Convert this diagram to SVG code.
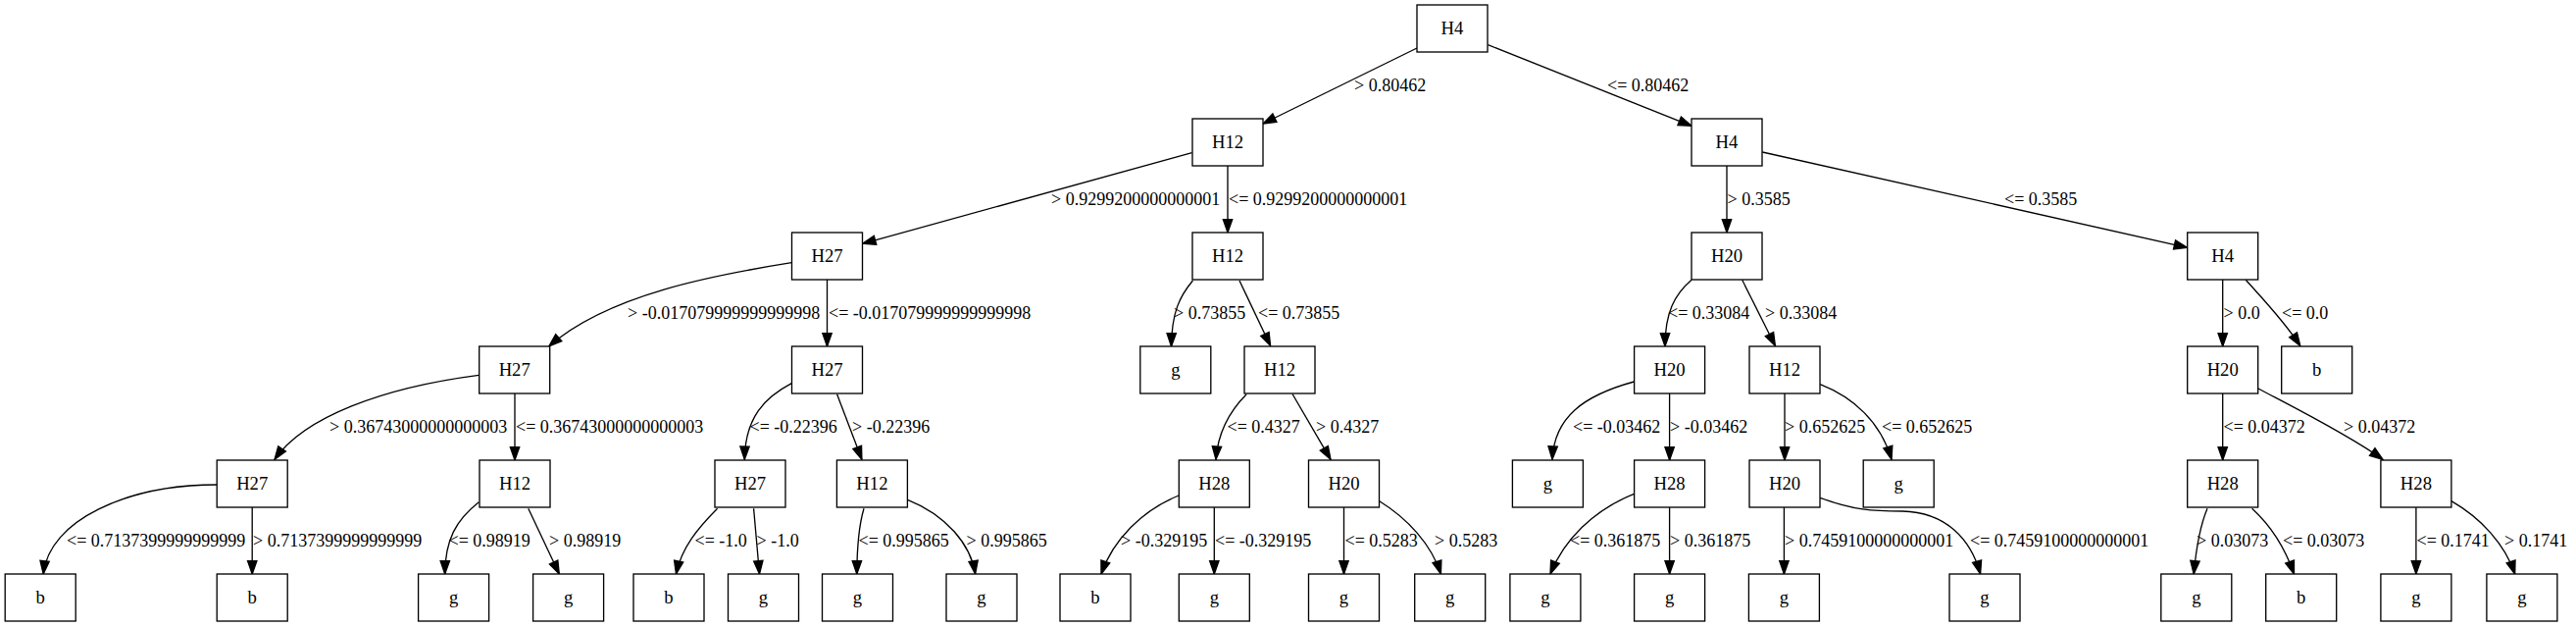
<svg xmlns="http://www.w3.org/2000/svg" width="2627" height="639" viewBox="0 0 2627 639">
<style>
.nd rect{fill:#fff;stroke:#000;stroke-width:1.33}
.nd text{font-family:"Liberation Serif","Times New Roman",serif;font-size:18.67px;text-anchor:middle;fill:#000}
.ed path{fill:none;stroke:#000;stroke-width:1.33;marker-end:url(#arr)}
.lb text{font-family:"Liberation Serif","Times New Roman",serif;font-size:18px;fill:#000}
</style>
<defs>
<marker id="arr" markerUnits="userSpaceOnUse" markerWidth="16" markerHeight="12" refX="13.3" refY="4.67" orient="auto" overflow="visible"><path d="M0,0 L13.3,4.67 L0,9.33 z" fill="#000" stroke="#000" stroke-width="1.33"/></marker>
</defs>
<rect width="2627" height="639" fill="#fff"/>
<g id="edges" class="ed">
<path d="M1445,49 L1288,126"/>
<path d="M1517.4,45.7 L1725,128.3"/>
<path d="M1215.6,155.7 L879.7,248.3"/>
<path d="M1252,169 L1252,237"/>
<path d="M1761,169 L1761,237"/>
<path d="M1797.3,155 L2230.5,252.3"/>
<path d="M807.3,267.7 C730,280 620,300 559.8,353"/>
<path d="M843.5,285 L843.5,353"/>
<path d="M1216.4,286 C1203,302 1195,318 1194.5,353"/>
<path d="M1264,286 L1295.6,352.5"/>
<path d="M1725,285.3 C1708,300 1698,318 1698,353"/>
<path d="M1776.7,285.3 L1810.4,352.5"/>
<path d="M2266.7,285 L2266.7,353"/>
<path d="M2290.3,285.3 C2308,305 2330,328 2345.8,352.5"/>
<path d="M488.3,382.3 C390,395 310,425 280,468.3"/>
<path d="M525,401 L525,469"/>
<path d="M807.3,390.7 C780,405 760,425 759.3,468.3"/>
<path d="M853.6,401.7 L878.9,468.3"/>
<path d="M1271.2,401.7 C1255,418 1242,440 1240,468.3"/>
<path d="M1318,401.5 L1357,468.3"/>
<path d="M1666.4,389 C1615,403 1585,425 1583,468.3"/>
<path d="M1702.6,401 L1702.6,469"/>
<path d="M1820,401 L1820,469"/>
<path d="M1856.2,391.7 C1890,405 1918,430 1929,468.3"/>
<path d="M2266.7,401 L2266.7,469"/>
<path d="M2302.9,396 C2335,413 2395,443 2430,468.3"/>
<path d="M221,494 C130,494 50,530 44.2,585"/>
<path d="M257.2,517 L257.2,585"/>
<path d="M488.3,511.7 C465,530 454,550 453.7,585"/>
<path d="M538.8,518.3 L570.3,585"/>
<path d="M731.6,518.3 C712,538 695,558 689.5,585"/>
<path d="M768.6,518.3 L774.5,585"/>
<path d="M881,518.3 C876,535 874,555 873.8,585"/>
<path d="M925.6,509.3 C965,525 990,555 994.6,585"/>
<path d="M1202.1,505 C1165,520 1135,550 1123,585"/>
<path d="M1238.3,517 L1238.3,585"/>
<path d="M1370.5,517 L1370.5,585"/>
<path d="M1406.7,510.7 C1435,528 1460,555 1469.4,585"/>
<path d="M1666.4,503.3 C1625,520 1595,550 1581,585"/>
<path d="M1702.6,517 L1702.6,585"/>
<path d="M1819.4,517 L1819.4,585"/>
<path d="M1856.2,507.3 C1890,520 1910,521 1940,521 C1985,522 2010,550 2019.6,585"/>
<path d="M2251,518.3 C2244,535 2240,555 2237.2,585"/>
<path d="M2296.6,518.3 C2315,535 2330,558 2339.5,585"/>
<path d="M2463.9,517 L2463.9,585"/>
<path d="M2499.9,510.7 C2530,528 2555,555 2564.7,585"/>
</g>
<g id="edge-labels" class="lb">
<text x="1381" y="92.5">&gt; 0.80462</text>
<text x="1639" y="92.5">&lt;= 0.80462</text>
<text x="1072" y="208.5">&gt; 0.9299200000000001</text>
<text x="1253" y="208.5">&lt;= 0.9299200000000001</text>
<text x="1761.5" y="208.5">&gt; 0.3585</text>
<text x="2044" y="208.5">&lt;= 0.3585</text>
<text x="640" y="324.5">&gt; -0.017079999999999998</text>
<text x="845" y="324.5">&lt;= -0.017079999999999998</text>
<text x="1197" y="324.5">&gt; 0.73855</text>
<text x="1283" y="324.5">&lt;= 0.73855</text>
<text x="1701" y="324.5">&lt;= 0.33084</text>
<text x="1800" y="324.5">&gt; 0.33084</text>
<text x="2267.5" y="324.5">&gt; 0.0</text>
<text x="2327" y="324.5">&lt;= 0.0</text>
<text x="336" y="440.5">&gt; 0.36743000000000003</text>
<text x="526" y="440.5">&lt;= 0.36743000000000003</text>
<text x="764.5" y="440.5">&lt;= -0.22396</text>
<text x="869" y="440.5">&gt; -0.22396</text>
<text x="1251.5" y="440.5">&lt;= 0.4327</text>
<text x="1342" y="440.5">&gt; 0.4327</text>
<text x="1604" y="440.5">&lt;= -0.03462</text>
<text x="1703" y="440.5">&gt; -0.03462</text>
<text x="1820" y="440.5">&gt; 0.652625</text>
<text x="1919" y="440.5">&lt;= 0.652625</text>
<text x="2267.5" y="440.5">&lt;= 0.04372</text>
<text x="2390" y="440.5">&gt; 0.04372</text>
<text x="68" y="556.5">&lt;= 0.7137399999999999</text>
<text x="258" y="556.5">&gt; 0.7137399999999999</text>
<text x="457.5" y="556.5">&lt;= 0.98919</text>
<text x="560" y="556.5">&gt; 0.98919</text>
<text x="708.5" y="556.5">&lt;= -1.0</text>
<text x="771.5" y="556.5">&gt; -1.0</text>
<text x="875.5" y="556.5">&lt;= 0.995865</text>
<text x="985.5" y="556.5">&gt; 0.995865</text>
<text x="1143" y="556.5">&gt; -0.329195</text>
<text x="1239" y="556.5">&lt;= -0.329195</text>
<text x="1371.5" y="556.5">&lt;= 0.5283</text>
<text x="1463" y="556.5">&gt; 0.5283</text>
<text x="1601" y="556.5">&lt;= 0.361875</text>
<text x="1703" y="556.5">&gt; 0.361875</text>
<text x="1820" y="556.5">&gt; 0.7459100000000001</text>
<text x="2009" y="556.5">&lt;= 0.7459100000000001</text>
<text x="2240" y="556.5">&gt; 0.03073</text>
<text x="2328" y="556.5">&lt;= 0.03073</text>
<text x="2464.5" y="556.5">&lt;= 0.1741</text>
<text x="2554" y="556.5">&gt; 0.1741</text>
</g>
<g id="n0" class="nd"><rect x="1445" y="5" width="72" height="48"/><text x="1481" y="34.5">H4</text></g>
<g id="n1" class="nd"><rect x="1216" y="121" width="72" height="48"/><text x="1252" y="150.5">H12</text></g>
<g id="n2" class="nd"><rect x="1725" y="121" width="72" height="48"/><text x="1761" y="150.5">H4</text></g>
<g id="n3" class="nd"><rect x="807.5" y="237" width="72" height="48"/><text x="843.5" y="266.5">H27</text></g>
<g id="n4" class="nd"><rect x="1216" y="237" width="72" height="48"/><text x="1252" y="266.5">H12</text></g>
<g id="n5" class="nd"><rect x="1725" y="237" width="72" height="48"/><text x="1761" y="266.5">H20</text></g>
<g id="n6" class="nd"><rect x="2230.7" y="237" width="72" height="48"/><text x="2266.7" y="266.5">H4</text></g>
<g id="n7" class="nd"><rect x="488.7" y="353" width="72" height="48"/><text x="524.7" y="382.5">H27</text></g>
<g id="n8" class="nd"><rect x="807.5" y="353" width="72" height="48"/><text x="843.5" y="382.5">H27</text></g>
<g id="n9" class="nd"><rect x="1162.8" y="353" width="72" height="48"/><text x="1198.8" y="382.5">g</text></g>
<g id="n10" class="nd"><rect x="1269" y="353" width="72" height="48"/><text x="1305" y="382.5">H12</text></g>
<g id="n11" class="nd"><rect x="1666.6" y="353" width="72" height="48"/><text x="1702.6" y="382.5">H20</text></g>
<g id="n12" class="nd"><rect x="1784" y="353" width="72" height="48"/><text x="1820" y="382.5">H12</text></g>
<g id="n13" class="nd"><rect x="2230.7" y="353" width="72" height="48"/><text x="2266.7" y="382.5">H20</text></g>
<g id="n14" class="nd"><rect x="2326.7" y="353" width="72" height="48"/><text x="2362.7" y="382.5">b</text></g>
<g id="n15" class="nd"><rect x="221.2" y="469" width="72" height="48"/><text x="257.2" y="498.5">H27</text></g>
<g id="n16" class="nd"><rect x="489" y="469" width="72" height="48"/><text x="525" y="498.5">H12</text></g>
<g id="n17" class="nd"><rect x="729" y="469" width="72" height="48"/><text x="765" y="498.5">H27</text></g>
<g id="n18" class="nd"><rect x="853.4" y="469" width="72" height="48"/><text x="889.4" y="498.5">H12</text></g>
<g id="n19" class="nd"><rect x="1202.3" y="469" width="72" height="48"/><text x="1238.3" y="498.5">H28</text></g>
<g id="n20" class="nd"><rect x="1334.5" y="469" width="72" height="48"/><text x="1370.5" y="498.5">H20</text></g>
<g id="n21" class="nd"><rect x="1542.4" y="469" width="72" height="48"/><text x="1578.4" y="498.5">g</text></g>
<g id="n22" class="nd"><rect x="1666.6" y="469" width="72" height="48"/><text x="1702.6" y="498.5">H28</text></g>
<g id="n23" class="nd"><rect x="1784" y="469" width="72" height="48"/><text x="1820" y="498.5">H20</text></g>
<g id="n24" class="nd"><rect x="1900.2" y="469" width="72" height="48"/><text x="1936.2" y="498.5">g</text></g>
<g id="n25" class="nd"><rect x="2230.7" y="469" width="72" height="48"/><text x="2266.7" y="498.5">H28</text></g>
<g id="n26" class="nd"><rect x="2427.9" y="469" width="72" height="48"/><text x="2463.9" y="498.5">H28</text></g>
<g id="n27" class="nd"><rect x="5.2" y="585" width="72" height="48"/><text x="41.2" y="614.5">b</text></g>
<g id="n28" class="nd"><rect x="221.2" y="585" width="72" height="48"/><text x="257.2" y="614.5">b</text></g>
<g id="n29" class="nd"><rect x="426.6" y="585" width="72" height="48"/><text x="462.6" y="614.5">g</text></g>
<g id="n30" class="nd"><rect x="543.6" y="585" width="72" height="48"/><text x="579.6" y="614.5">g</text></g>
<g id="n31" class="nd"><rect x="646" y="585" width="72" height="48"/><text x="682" y="614.5">b</text></g>
<g id="n32" class="nd"><rect x="742.5" y="585" width="72" height="48"/><text x="778.5" y="614.5">g</text></g>
<g id="n33" class="nd"><rect x="838.5" y="585" width="72" height="48"/><text x="874.5" y="614.5">g</text></g>
<g id="n34" class="nd"><rect x="965" y="585" width="72" height="48"/><text x="1001" y="614.5">g</text></g>
<g id="n35" class="nd"><rect x="1081" y="585" width="72" height="48"/><text x="1117" y="614.5">b</text></g>
<g id="n36" class="nd"><rect x="1202.3" y="585" width="72" height="48"/><text x="1238.3" y="614.5">g</text></g>
<g id="n37" class="nd"><rect x="1334.5" y="585" width="72" height="48"/><text x="1370.5" y="614.5">g</text></g>
<g id="n38" class="nd"><rect x="1442.7" y="585" width="72" height="48"/><text x="1478.7" y="614.5">g</text></g>
<g id="n39" class="nd"><rect x="1539.9" y="585" width="72" height="48"/><text x="1575.9" y="614.5">g</text></g>
<g id="n40" class="nd"><rect x="1666.6" y="585" width="72" height="48"/><text x="1702.6" y="614.5">g</text></g>
<g id="n41" class="nd"><rect x="1783.4" y="585" width="72" height="48"/><text x="1819.4" y="614.5">g</text></g>
<g id="n42" class="nd"><rect x="1988" y="585" width="72" height="48"/><text x="2024" y="614.5">g</text></g>
<g id="n43" class="nd"><rect x="2203.8" y="585" width="72" height="48"/><text x="2239.8" y="614.5">g</text></g>
<g id="n44" class="nd"><rect x="2310.7" y="585" width="72" height="48"/><text x="2346.7" y="614.5">b</text></g>
<g id="n45" class="nd"><rect x="2427.9" y="585" width="72" height="48"/><text x="2463.9" y="614.5">g</text></g>
<g id="n46" class="nd"><rect x="2535.9" y="585" width="72" height="48"/><text x="2571.9" y="614.5">g</text></g>
</svg>
